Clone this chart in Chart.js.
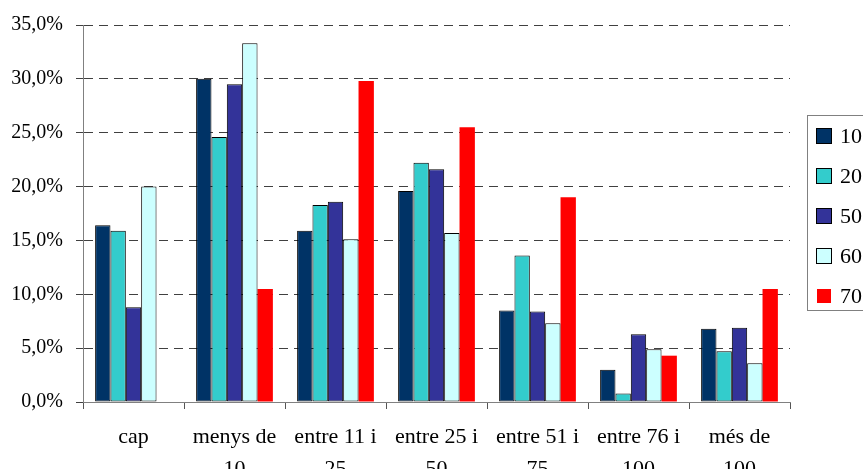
<!DOCTYPE html>
<html>
<head>
<meta charset="utf-8">
<script src="https://cdn.jsdelivr.net/npm/chart.js@4/dist/chart.umd.min.js"></script>
<style>
  html, body { margin: 0; padding: 0; background: #ffffff; overflow: hidden; }
  #wrap { width: 863px; height: 469px; position: relative; }
</style>
</head>
<body>
<div id="wrap"><canvas id="c" width="863" height="469"></canvas></div>
<script>
const categories = [['cap'], ['menys de', '10'], ['entre 11 i', '25'], ['entre 25 i', '50'], ['entre 51 i', '75'], ['entre 76 i', '100'], ['més de', '100']];
const seriesNames = ['10', '20', '50', '60', '70'];
const s10 = [16.4, 30.0, 15.9, 19.6, 8.5, 3.0, 6.8];
const s20 = [15.9, 24.6, 18.3, 22.2, 13.6, 0.8, 4.7];
const s50 = [8.8, 29.5, 18.6, 21.6, 8.4, 6.3, 6.9];
const s60 = [20.0, 33.3, 15.1, 15.7, 7.3, 4.9, 3.6];
const s70 = [null, 10.5, 29.8, 25.5, 19.0, 4.3, 10.5];
const yTicks = [0, 5, 10, 15, 20, 25, 30, 35];

const colors = ['#003366', '#33CCCC', '#333399', '#CCFFFF', '#FF0000'];
const borders = [1, 1, 1, 1, 0];
const seriesData = [s10, s20, s50, s60, s70];
const FONT = "'Liberation Serif', 'Times New Roman', serif";

const legendPlugin = {
  id: 'boxLegend',
  afterDraw(chart) {
    const ctx = chart.ctx;
    ctx.save();
    ctx.strokeStyle = '#808080';
    ctx.lineWidth = 1;
    ctx.strokeRect(807.5, 115.5, 80, 195);
    ctx.font = '22px ' + FONT;
    ctx.textBaseline = 'middle';
    ctx.textAlign = 'left';
    chart.data.datasets.forEach((ds, i) => {
      const cy = 136 + i * 40;
      ctx.fillStyle = ds.backgroundColor;
      ctx.fillRect(817, cy - 7, 14, 14);
      if (ds.borderWidth > 0) {
        ctx.strokeStyle = '#000000';
        ctx.strokeRect(816.5, cy - 7.5, 15, 15);
      }
      ctx.fillStyle = '#000000';
      ctx.fillText(ds.label, 840, cy + 1);
    });
    ctx.restore();
  }
};

new Chart(document.getElementById('c'), {
  type: 'bar',
  data: {
    labels: categories,
    datasets: seriesNames.map((n, i) => ({
      label: n,
      data: seriesData[i],
      backgroundColor: colors[i],
      borderColor: '#000000',
      borderWidth: borders[i],
      borderSkipped: false,
      barPercentage: 1.0,
      categoryPercentage: 0.76
    }))
  },
  options: {
    responsive: false,
    animation: false,
    devicePixelRatio: 1,
    layout: { padding: { left: 0, right: 73, top: 24, bottom: 0 } },
    plugins: {
      legend: { display: false },
      tooltip: { enabled: false }
    },
    scales: {
      x: {
        afterFit: (s) => { s.height = 67; },
        grid: {
          offset: true,
          drawOnChartArea: false,
          drawTicks: true,
          tickLength: 7,
          tickColor: '#555555'
        },
        border: { display: true, color: '#808080', width: 1 },
        ticks: {
          autoSkip: false,
          maxRotation: 0,
          minRotation: 0,
          padding: 13,
          color: '#000000',
          font: { family: FONT, size: 22, lineHeight: 1.42 }
        }
      },
      y: {
        min: 0,
        max: 35,
        afterFit: (s) => { s.width = 83; },
        afterBuildTicks: (s) => { s.ticks = yTicks.map(v => ({ value: v })); },
        grid: {
          color: '#404040',
          lineWidth: 1,
          drawTicks: true,
          tickLength: 7,
          tickColor: '#404040',
          tickBorderDash: []
        },
        border: { display: true, color: '#808080', width: 1, dash: [9, 6] },
        ticks: {
          stepSize: 5,
          padding: 13,
          color: '#000000',
          font: { family: FONT, size: 20 },
          callback: (v) => Number(v).toFixed(1).replace('.', ',') + '%'
        }
      }
    }
  },
  plugins: [legendPlugin]
});
</script>
</body>
</html>
